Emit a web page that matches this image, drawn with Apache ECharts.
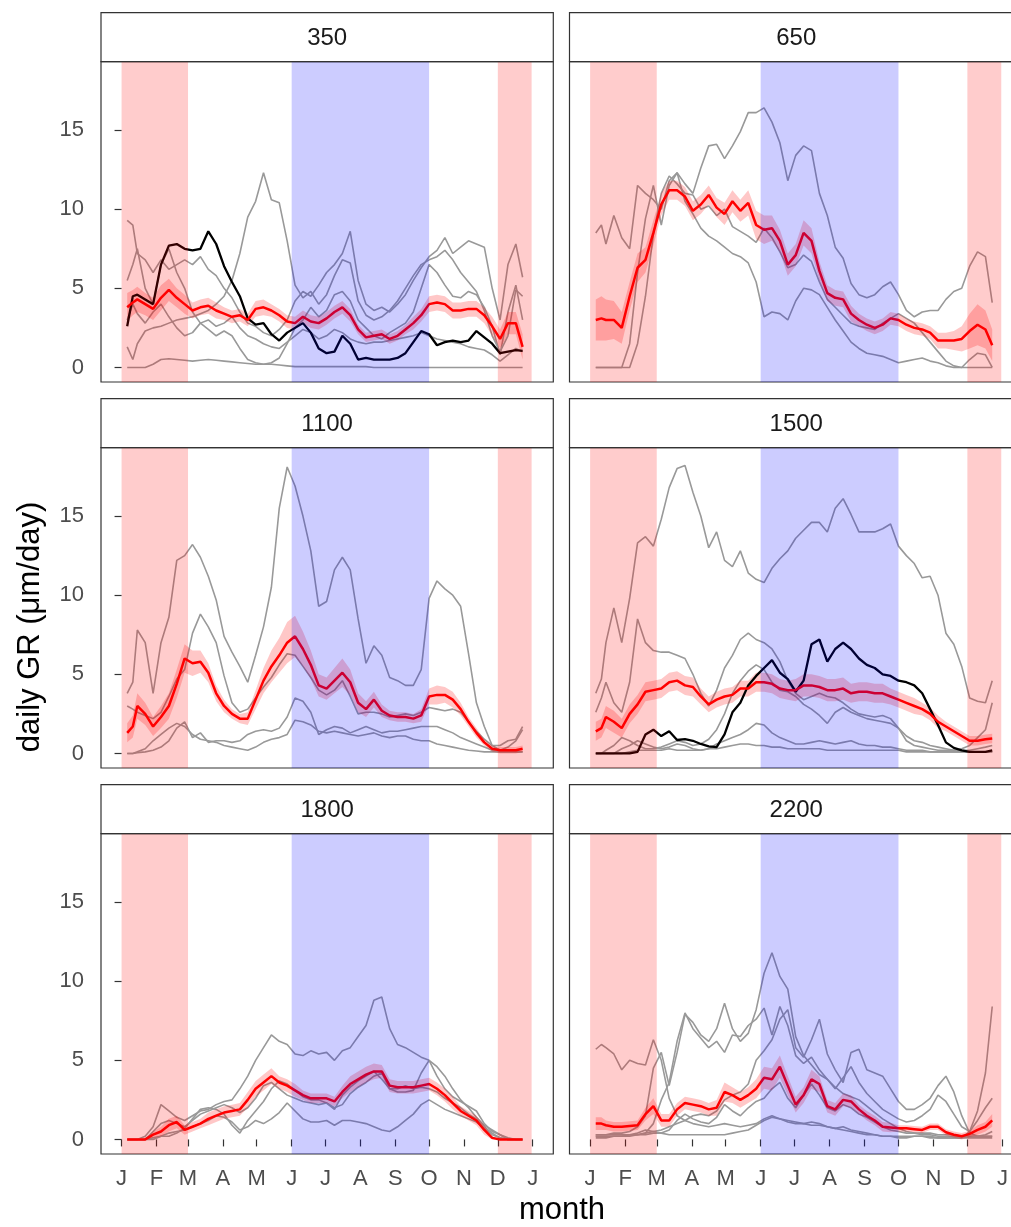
<!DOCTYPE html>
<html>
<head>
<meta charset="utf-8">
<title>daily GR by elevation</title>
<script src="https://cdn.jsdelivr.net/npm/echarts@6/dist/echarts.min.js"></script>
<style>
  html, body { margin: 0; padding: 0; background: #fff; }
  #main { width: 1011px; height: 1227px; }
</style>
</head>
<body>
<div id="main"></div>
<script>
// day of year for every sample
const days = [
  5, 10, 14, 21, 28, 35, 42, 49, 56, 63, 70, 77, 84,
  91, 98, 105, 112, 119, 126, 133, 140, 147, 154, 161, 168, 175,
  182, 189, 196, 203, 210, 217, 224, 231, 238, 245, 252, 259, 266,
  273, 280, 287, 294, 301, 308, 315, 322, 329, 336, 343, 350, 356
];
const monthDays = [0, 31, 59, 90, 120, 151, 181, 212, 243, 273, 304, 334, 365];
const monthLabels = ['J', 'F', 'M', 'A', 'M', 'J', 'J', 'A', 'S', 'O', 'N', 'D', 'J'];
const yTicks = [0, 5, 10, 15];
const winterSpans = [[0, 59], [334, 364]];
const summerSpans = [[151, 273]];

// ---- 350 ----
const mean350 = [
  3.8, 4.1, 4.3, 4.0, 3.7, 4.4, 4.9, 4.4, 4.0, 3.6, 3.8, 3.9, 3.6,
  3.4, 3.2, 3.3, 3.0, 3.7, 3.8, 3.6, 3.3, 2.9, 2.8, 3.2, 2.9, 2.8,
  3.1, 3.5, 3.8, 3.3, 2.4, 1.9, 2.0, 2.1, 1.8, 2.0, 2.4, 2.8, 3.3,
  4.0, 4.1, 4.0, 3.6, 3.6, 3.7, 3.7, 3.3, 2.6, 1.8, 2.8, 2.8, 1.3
];
const se350 = [
  0.9, 0.8, 0.8, 0.7, 0.7, 0.8, 0.7, 0.6, 0.6, 0.5, 0.5, 0.5, 0.5,
  0.4, 0.4, 0.4, 0.4, 0.5, 0.5, 0.4, 0.4, 0.4, 0.4, 0.4, 0.4, 0.4,
  0.4, 0.4, 0.4, 0.4, 0.3, 0.3, 0.3, 0.3, 0.3, 0.3, 0.3, 0.4, 0.4,
  0.5, 0.5, 0.5, 0.5, 0.5, 0.5, 0.5, 0.5, 0.6, 0.6, 0.7, 0.7, 0.8
];
const black350 = [
  2.6, 4.5, 4.6, 4.3, 4.0, 6.5, 7.7, 7.8, 7.5, 7.4, 7.5, 8.6, 7.8,
  6.4, 5.4, 4.5, 3.1, 2.7, 2.8, 2.1, 1.7, 2.2, 2.5, 2.8, 2.2, 1.2,
  0.9, 1.0, 2.0, 1.5, 0.5, 0.6, 0.5, 0.5, 0.5, 0.6, 0.9, 1.6, 2.3,
  2.1, 1.4, 1.6, 1.7, 1.6, 1.7, 2.3, 1.9, 1.5, 0.9, 1.0, 1.1, 1.05
];
const grey350 = [
  [9.3, 9.0, 7.2, 6.8, 6.0, 6.8, 6.2, 6.5, 6.8, 6.5, 7.0, 6.2, 5.8,
   5.0, 4.4, 3.5, 2.8, 2.6, 2.2, 2.0, 2.4, 3.0, 4.2, 4.8, 4.5, 5.2,
   6.0, 6.5, 7.2, 8.6, 5.5, 4.0, 3.6, 3.8, 3.5, 4.0, 4.6, 5.5, 6.3,
   7.0, 7.4, 8.2, 7.2, 7.6, 8.0, 7.8, 7.6, 5.0, 3.0, 6.5, 7.8, 5.7],
  [1.3, 0.5, 1.5, 2.3, 2.5, 2.6, 2.8, 3.0, 3.1, 3.2, 3.4, 3.6, 4.0,
   4.5, 5.5, 7.2, 9.5, 10.5, 12.3, 10.6, 10.4, 8.0, 5.2, 4.4, 4.8, 4.0,
   4.6, 5.8, 6.8, 6.6, 4.2, 3.3, 3.0, 3.2, 3.6, 4.2, 5.0, 5.8, 6.5,
   6.8, 7.0, 7.4, 6.8, 6.0, 5.4, 4.8, 3.6, 2.0, 1.0, 2.0, 4.9, 4.5],
  [5.5, 6.5, 7.5, 5.0, 4.0, 6.5, 7.5, 6.0, 5.0, 3.5, 2.8, 2.4, 2.0,
   2.3, 2.0, 1.2, 0.5, 0.3, 0.2, 0.3, 0.6, 1.5, 2.5, 3.0, 3.8, 3.2,
   3.6, 4.6, 4.8, 4.2, 3.0, 2.5, 2.0, 1.8, 2.2, 2.5, 2.8, 3.5, 5.0,
   6.5, 6.0, 5.2, 4.5, 4.4, 4.8, 4.6, 3.8, 2.6, 0.8, 3.5, 5.2, 3.0],
  [3.0, 4.0, 3.4, 2.8, 3.5, 4.0, 3.2, 2.5, 2.0, 2.2, 2.8, 3.0, 2.6,
   2.8, 3.2, 2.5, 2.0, 1.8, 1.5, 1.3, 1.2, 1.6, 2.0, 2.4, 2.2, 1.8,
   2.0, 2.4, 2.2, 1.8, 1.6, 1.5, 1.6, 1.6, 1.7, 1.8, 1.9, 2.0, 2.2,
   2.0, 1.8, 1.7, 1.6, 1.5, 1.3, 1.2, 1.1, 0.8, 0.4, 0.8, 1.2, 1.0],
  [0, 0, 0, 0, 0.2, 0.5, 0.55, 0.5, 0.45, 0.4, 0.45, 0.5, 0.45,
   0.4, 0.35, 0.3, 0.25, 0.2, 0.2, 0.2, 0.15, 0.1, 0.05, 0.05, 0.05, 0.05,
   0.05, 0.05, 0.05, 0.05, 0.05, 0.05, 0, 0, 0, 0, 0, 0, 0,
   0, 0, 0, 0, 0, 0, 0, 0, 0, 0, 0, 0, 0]
];

// ---- 650 ----
const mean650 = [
  3.0, 3.1, 3.0, 3.0, 2.5, 4.5, 6.3, 6.8, 8.5, 10.3, 11.2, 11.2, 10.8,
  9.9, 10.3, 10.9, 10.1, 9.7, 10.5, 9.9, 10.4, 9.0, 8.7, 8.8, 8.0, 6.5,
  7.1, 8.5, 8.0, 6.1, 4.7, 4.4, 4.3, 3.4, 3.0, 2.7, 2.5, 2.7, 3.1,
  3.0, 2.7, 2.5, 2.4, 2.2, 1.7, 1.7, 1.7, 1.8, 2.3, 2.7, 2.4, 1.4
];
const se650 = [
  1.3, 1.4, 1.3, 1.2, 1.0, 0.9, 0.9, 0.8, 0.8, 0.7, 0.6, 0.6, 0.6,
  0.6, 0.6, 0.6, 0.6, 0.7, 0.7, 0.7, 0.8, 0.9, 0.9, 0.8, 0.7, 0.7,
  0.7, 0.8, 0.8, 0.6, 0.5, 0.5, 0.5, 0.5, 0.4, 0.4, 0.4, 0.4, 0.4,
  0.4, 0.4, 0.4, 0.4, 0.4, 0.5, 0.5, 0.6, 0.8, 1.1, 1.3, 1.2, 1.0
];
const grey650 = [
  [8.5, 9.0, 7.8, 9.6, 8.2, 7.5, 11.5, 11.0, 10.6, 10.0, 11.8, 12.3, 11.6,
   11.0, 12.6, 14.0, 14.1, 13.2, 14.0, 14.9, 16.1, 16.1, 16.4, 15.5, 14.2, 11.8,
   13.4, 14.0, 13.7, 11.0, 9.6, 7.6, 6.9, 5.3, 4.6, 4.4, 4.6, 5.1, 5.4,
   4.6, 3.6, 3.2, 3.5, 3.6, 3.6, 4.3, 4.8, 5.0, 6.4, 7.3, 7.0, 4.1],
  [0, 0, 0, 0, 0, 1.5, 6.0, 9.4, 11.5, 9.0, 11.5, 12.3, 10.5,
   9.7, 8.8, 8.3, 8.0, 7.6, 7.2, 7.0, 6.6, 5.4, 3.2, 3.5, 3.4, 3.0,
   4.2, 5.0, 4.9, 4.6, 3.8, 3.0, 2.3, 1.6, 1.2, 0.9, 0.8, 0.7, 0.5,
   0.3, 0.4, 0.5, 0.6, 0.4, 0.3, 0.1, 0, 0, 0, 0, 0, 0],
  [0, 0, 0, 0, 0, 0, 1.5, 4.5, 8.4, 11.0, 12.1, 11.6, 11.0,
   10.9, 10.0, 10.2, 9.6, 10.0, 8.9, 8.6, 8.3, 7.9, 8.8, 8.2, 7.3, 6.3,
   6.5, 7.1, 6.7, 5.4, 4.3, 3.8, 3.3, 2.8, 2.6, 2.5, 2.4, 2.8, 3.1,
   3.4, 3.1, 2.8, 2.2, 1.6, 1.0, 0.4, 0.1, 0, 0.5, 0.9, 0.8, 0]
];

// ---- 1100 ----
const mean1100 = [
  1.3, 1.7, 3.0, 2.5, 1.7, 2.3, 3.0, 4.4, 6.0, 5.7, 5.8, 5.1, 3.8,
  3.0, 2.5, 2.2, 2.2, 3.4, 4.6, 5.5, 6.2, 7.0, 7.4, 6.6, 5.6, 4.3,
  4.1, 4.6, 5.1, 4.5, 3.2, 2.8, 3.4, 2.7, 2.4, 2.3, 2.3, 2.2, 2.4,
  3.6, 3.7, 3.7, 3.4, 2.8, 2.0, 1.3, 0.7, 0.3, 0.2, 0.2, 0.2, 0.3
];
const se1100 = [
  0.6, 0.7, 0.8, 0.7, 0.6, 0.7, 0.8, 0.9, 0.9, 0.8, 0.7, 0.6, 0.5,
  0.4, 0.3, 0.3, 0.4, 0.6, 0.8, 1.0, 1.1, 1.3, 1.3, 1.1, 0.9, 0.7,
  0.7, 0.8, 0.9, 0.8, 0.6, 0.5, 0.5, 0.4, 0.3, 0.3, 0.3, 0.3, 0.4,
  0.5, 0.6, 0.5, 0.5, 0.4, 0.3, 0.3, 0.2, 0.2, 0.2, 0.2, 0.2, 0.2
];
const grey1100 = [
  [3.8, 4.5, 7.8, 7.0, 3.8, 7.0, 8.6, 12.2, 12.5, 13.2, 12.4, 11.2, 9.7,
   7.4, 6.4, 5.5, 4.5, 6.2, 8.0, 10.5, 15.5, 18.1, 16.9, 15.0, 12.8, 9.3,
   9.6, 11.6, 12.4, 11.6, 8.5, 5.7, 6.8, 6.2, 4.8, 4.6, 4.3, 4.3, 5.3,
   9.8, 10.9, 10.4, 10.0, 9.3, 6.3, 3.2, 1.7, 0.5, 0.2, 0.4, 0.8, 1.5],
  [3.0, 2.8, 2.6, 2.4, 2.2, 2.6, 3.6, 4.7, 5.3, 7.6, 8.8, 8.0, 7.0,
   4.9, 3.2, 2.6, 2.8, 3.5, 4.2, 4.8, 5.6, 6.3, 6.2, 5.5, 4.8, 4.0,
   3.7, 4.0, 4.6, 3.6, 2.5, 2.6, 2.6, 2.5, 2.3, 2.4, 2.5, 2.4, 2.6,
   2.9, 2.8, 2.7, 2.8, 2.6, 2.0, 1.4, 0.9, 0.5, 0.5, 0.8, 0.9, 1.7],
  [0, 0, 0.05, 0.1, 0.2, 0.4, 0.8, 1.6, 2.0, 1.0, 1.3, 0.7, 0.8,
   0.8, 0.7, 0.8, 1.2, 1.4, 1.5, 1.4, 1.6, 2.3, 3.5, 3.3, 2.6, 1.2,
   1.5, 1.7, 1.6, 1.3, 1.5, 1.7, 1.5, 1.3, 1.4, 1.4, 1.5, 1.6, 1.7,
   1.7, 1.7, 1.5, 1.3, 1.0, 0.8, 0.6, 0.4, 0.2, 0.1, 0.1, 0.1, 0.1],
  [0, 0, 0.1, 0.3, 0.8, 1.2, 1.6, 1.9, 1.7, 1.2, 0.9, 0.8, 0.7,
   0.5, 0.4, 0.3, 0.2, 0.4, 0.7, 0.9, 1.0, 1.2, 2.1, 2.0, 1.8, 1.4,
   1.3, 1.4, 1.3, 1.2, 1.1, 1.2, 1.3, 1.1, 1.0, 1.1, 1.1, 0.9, 0.8,
   0.8, 0.6, 0.5, 0.4, 0.3, 0.2, 0.15, 0.1, 0.1, 0.1, 0.1, 0.1, 0.1]
];

// ---- 1500 ----
const mean1500 = [
  1.4, 1.6, 2.3, 2.0, 1.6, 2.5, 3.1, 3.9, 4.0, 4.1, 4.5, 4.6, 4.3,
  4.2, 3.6, 3.1, 3.4, 3.6, 3.7, 4.1, 4.1, 4.5, 4.5, 4.4, 4.1, 4.0,
  4.0, 4.3, 4.3, 4.2, 4.0, 4.0, 4.1, 3.8, 3.9, 3.9, 3.8, 3.8, 3.6,
  3.4, 3.2, 3.0, 2.8, 2.5, 2.0, 1.7, 1.4, 1.1, 0.8, 0.8, 0.9, 0.95
];
const se1500 = [
  0.6, 0.6, 0.7, 0.7, 0.6, 0.6, 0.6, 0.6, 0.6, 0.6, 0.6, 0.6, 0.6,
  0.6, 0.5, 0.5, 0.5, 0.5, 0.5, 0.5, 0.5, 0.6, 0.6, 0.6, 0.6, 0.6,
  0.7, 0.7, 0.7, 0.7, 0.7, 0.7, 0.7, 0.6, 0.6, 0.6, 0.6, 0.6, 0.5,
  0.5, 0.5, 0.5, 0.4, 0.4, 0.4, 0.3, 0.3, 0.3, 0.3, 0.3, 0.3, 0.3
];
const black1500 = [
  0, 0, 0, 0, 0, 0, 0.1, 1.2, 1.5, 1.1, 1.4, 0.85, 0.9,
  0.8, 0.6, 0.45, 0.4, 1.2, 2.6, 3.2, 4.3, 4.9, 5.4, 5.9, 5.1, 4.7,
  3.9, 4.6, 6.9, 7.2, 5.8, 6.6, 7.0, 6.6, 6.0, 5.6, 5.4, 5.0, 4.9,
  4.6, 4.5, 4.3, 3.8, 2.8, 1.8, 0.7, 0.35, 0.2, 0.1, 0.1, 0.1, 0.2
];
const grey1500 = [
  [3.8, 4.7, 7.0, 9.2, 7.0, 9.8, 13.3, 13.7, 13.1, 14.8, 16.8, 18.0, 18.2,
   16.5, 15.0, 13.0, 14.0, 12.2, 11.8, 12.8, 11.4, 11.0, 10.8, 11.7, 12.3, 12.8,
   13.6, 14.1, 14.6, 14.6, 14.0, 15.5, 16.1, 15.1, 14.0, 14.0, 14.0, 14.2, 14.5,
   13.1, 12.5, 12.0, 11.1, 11.2, 10.0, 7.6, 6.9, 5.5, 3.5, 3.3, 3.2, 4.6],
  [2.6, 3.5, 4.5, 3.2, 2.6, 4.5, 8.5, 7.0, 6.5, 6.4, 6.4, 6.2, 6.0,
   5.0, 3.8, 3.0, 4.0, 5.4, 6.2, 7.2, 7.6, 7.2, 7.0, 6.6, 5.8, 4.6,
   3.8, 3.4, 3.6, 3.8, 3.6, 3.5, 3.2, 2.8, 2.5, 2.4, 2.3, 2.4, 2.2,
   1.6, 0.8, 0.5, 0.4, 0.3, 0.2, 0.2, 0.2, 0.3, 0.5, 1.0, 1.5, 3.2],
  [0, 0, 0, 0, 0.3, 0.5, 0.8, 0.6, 0.4, 0.3, 0.4, 0.6, 0.5,
   0.3, 0.2, 0.3, 0.6, 0.8, 1.0, 1.2, 1.5, 1.9, 1.8, 1.3, 1.0, 0.8,
   0.6, 0.6, 0.7, 0.8, 0.7, 0.6, 0.7, 0.8, 0.6, 0.5, 0.5, 0.4, 0.4,
   0.3, 0.2, 0.2, 0.2, 0.1, 0.1, 0.1, 0.1, 0.1, 0.1, 0.1, 0.1, 0.1],
  [0, 0, 0.2, 0.5, 1.0, 0.8, 0.5, 0.3, 0.3, 0.4, 0.6, 0.8, 0.7,
   0.5, 0.6, 0.9, 1.5, 2.5, 3.8, 4.6, 5.2, 5.6, 5.3, 4.5, 4.0, 3.9,
   3.6, 3.1, 2.8, 2.4, 1.9, 2.6, 2.9, 2.6, 2.4, 2.2, 2.1, 2.0, 1.9,
   1.6, 1.1, 0.8, 0.7, 0.5, 0.4, 0.3, 0.2, 0.2, 0.2, 0.3, 0.4, 0.5],
  [0, 0, 0, 0, 0, 0.1, 0.2, 0.2, 0.2, 0.2, 0.3, 0.2, 0.2,
   0.2, 0.2, 0.3, 0.3, 0.4, 0.5, 0.6, 0.6, 0.5, 0.5, 0.4, 0.4, 0.3,
   0.3, 0.3, 0.3, 0.3, 0.2, 0.2, 0.2, 0.2, 0.2, 0.2, 0.2, 0.2, 0.2,
   0.2, 0.1, 0.1, 0.1, 0.1, 0.1, 0.1, 0.1, 0.1, 0.1, 0.1, 0.1, 0.1]
];

// ---- 1800 ----
const mean1800 = [
  0, 0, 0, 0, 0.3, 0.5, 0.9, 1.1, 0.6, 0.8, 1.0, 1.3, 1.5,
  1.7, 1.8, 1.9, 2.5, 3.2, 3.6, 4.0, 3.6, 3.4, 3.1, 2.8, 2.6, 2.6,
  2.6, 2.4, 3.0, 3.5, 3.8, 4.1, 4.3, 4.3, 3.4, 3.3, 3.3, 3.3, 3.4,
  3.5, 3.2, 2.8, 2.3, 1.8, 1.5, 1.2, 0.6, 0.1, 0, 0, 0, 0
];
const se1800 = [
  0, 0, 0, 0, 0.2, 0.3, 0.4, 0.4, 0.3, 0.3, 0.3, 0.4, 0.4,
  0.4, 0.4, 0.4, 0.5, 0.5, 0.5, 0.5, 0.4, 0.4, 0.4, 0.3, 0.3, 0.3,
  0.3, 0.3, 0.4, 0.5, 0.5, 0.5, 0.5, 0.4, 0.4, 0.4, 0.4, 0.4, 0.4,
  0.4, 0.4, 0.4, 0.4, 0.3, 0.3, 0.3, 0.3, 0.1, 0, 0, 0, 0
];
const grey1800 = [
  [0, 0, 0, 0.2, 0.8, 2.2, 1.8, 1.4, 1.2, 1.5, 1.8, 1.9, 2.2,
   2.4, 2.5, 3.2, 4.0, 5.0, 5.8, 6.6, 6.2, 6.0, 5.4, 5.3, 5.6, 5.4,
   5.5, 5.0, 5.6, 5.8, 6.5, 7.2, 8.8, 9.0, 7.0, 6.0, 5.8, 5.5, 5.2,
   5.0, 4.6, 4.0, 3.2, 2.5, 2.0, 1.4, 0.9, 0.6, 0.3, 0, 0, 0],
  [0, 0, 0, 0, 0, 0.2, 0.4, 0.5, 0.6, 0.8, 1.0, 1.2, 1.5,
   1.4, 1.1, 0.6, 0.8, 1.2, 1.0, 1.3, 1.7, 2.3, 1.8, 1.3, 1.1, 1.1,
   1.2, 0.9, 1.2, 1.2, 1.1, 1.0, 0.8, 0.6, 0.5, 0.8, 1.2, 1.6, 2.2,
   2.5, 2.2, 1.9, 1.7, 1.5, 1.3, 1.1, 0.7, 0.3, 0.1, 0, 0, 0],
  [0, 0, 0, 0, 0.1, 0.2, 0.2, 0.4, 0.7, 1.3, 1.9, 2.0, 1.9,
   1.6, 0.9, 0.4, 1.2, 1.8, 2.4, 3.2, 3.7, 3.5, 3.1, 2.7, 2.5, 2.5,
   2.3, 1.9, 2.8, 3.3, 3.7, 4.0, 4.3, 3.8, 3.2, 3.0, 3.0, 3.1, 4.2,
   5.0, 4.0, 3.2, 2.7, 2.4, 2.1, 1.8, 1.0, 0.5, 0.3, 0.1, 0, 0],
  [0, 0, 0, 0, 0.5, 1.0, 1.2, 1.0, 0.8, 1.2, 1.6, 1.8, 2.0,
   2.2, 2.0, 1.7, 2.0, 2.6, 3.4, 3.6, 3.2, 2.8, 2.6, 2.4, 2.3, 2.2,
   2.3, 2.0, 2.2, 2.9, 3.3, 3.6, 4.0, 4.2, 3.2, 3.2, 3.4, 3.2, 3.3,
   3.2, 3.0, 2.6, 2.3, 2.0, 1.6, 1.3, 0.8, 0.4, 0.1, 0, 0, 0]
];

// ---- 2200 ----
const mean2200 = [
  1.0, 1.0, 0.9, 0.8, 0.8, 0.85, 0.9, 1.6, 2.1, 1.2, 1.2, 1.9, 2.3,
  2.2, 2.1, 1.9, 2.0, 3.0, 2.8, 2.5, 2.8, 3.2, 3.9, 3.8, 4.6, 3.4,
  2.2, 2.8, 3.8, 3.5, 2.1, 1.9, 2.5, 2.4, 1.9, 1.5, 1.2, 0.8, 0.75,
  0.7, 0.7, 0.65, 0.6, 0.8, 0.8, 0.45, 0.3, 0.2, 0.35, 0.6, 0.8, 1.2
];
const se2200 = [
  0.4, 0.4, 0.3, 0.3, 0.3, 0.3, 0.3, 0.4, 0.5, 0.4, 0.4, 0.4, 0.4,
  0.4, 0.4, 0.4, 0.5, 0.6, 0.5, 0.5, 0.5, 0.6, 0.7, 0.7, 0.7, 0.6,
  0.5, 0.5, 0.6, 0.5, 0.4, 0.4, 0.4, 0.4, 0.3, 0.3, 0.3, 0.3, 0.3,
  0.2, 0.2, 0.2, 0.2, 0.2, 0.2, 0.2, 0.2, 0.2, 0.2, 0.3, 0.3, 0.4
];
const grey2200 = [
  [5.7, 6.0, 5.8, 5.4, 4.4, 5.0, 4.8, 4.7, 6.3, 5.0, 2.6, 1.5, 1.2,
   1.0, 0.9, 0.8, 0.9, 1.0, 0.9, 0.8, 0.9, 1.0, 1.3, 1.5, 1.3, 1.2,
   1.1, 1.0, 1.1, 1.0, 0.8, 0.7, 0.8, 0.6, 0.5, 0.4, 0.3, 0.2, 0.2,
   0.1, 0.1, 0.2, 0.2, 0.1, 0.1, 0.1, 0.1, 0.1, 0.5, 1.8, 4.2, 8.4],
  [0.3, 0.3, 0.3, 0.4, 0.4, 0.5, 0.8, 1.5, 4.5, 5.5, 3.4, 5.5, 7.9,
   7.4, 6.6, 6.2, 7.0, 8.6, 7.0, 6.2, 6.7, 8.2, 10.5, 11.8, 10.3, 9.5,
   6.5, 5.3, 4.7, 4.1, 3.8, 3.3, 2.9, 2.7, 2.5, 2.1, 1.7, 1.3, 1.0,
   0.7, 0.5, 0.4, 0.3, 0.3, 0.2, 0.2, 0.2, 0.2, 0.2, 0.2, 0.2, 0.2],
  [0.2, 0.2, 0.2, 0.2, 0.2, 0.3, 0.3, 0.4, 0.5, 0.6, 0.8, 1.0, 1.2,
   1.5, 1.6, 1.5, 1.8, 2.5, 2.8, 3.0, 3.5, 5.0, 5.6, 6.3, 7.6, 8.2,
   5.8, 5.2, 6.3, 7.6, 5.4, 4.4, 3.6, 5.5, 5.7, 4.4, 4.2, 4.0, 3.2,
   2.4, 1.9, 1.9, 2.2, 2.6, 3.4, 4.0, 3.0, 1.5, 0.4, 0.2, 0.2, 0.2],
  [0.1, 0.1, 0.1, 0.2, 0.2, 0.3, 0.4, 0.6, 0.5, 0.4, 0.6, 1.2, 1.6,
   1.3, 1.1, 1.0, 1.4, 2.2, 1.8, 1.5, 2.0, 2.4, 2.6, 3.2, 3.6, 2.6,
   2.0, 2.8, 3.5, 2.8, 2.0, 1.8, 2.2, 2.0, 1.6, 1.4, 1.1, 0.8, 0.6,
   0.5, 0.4, 0.4, 0.4, 0.4, 0.3, 0.3, 0.3, 0.2, 0.2, 0.2, 0.3, 0.5],
  [0.2, 0.2, 0.2, 0.2, 0.2, 0.2, 0.3, 0.4, 1.0, 2.5, 3.6, 6.2, 8.0,
   7.0, 6.4, 5.8, 6.2, 5.5, 6.6, 6.5, 7.2, 7.6, 8.3, 6.6, 8.4, 7.2,
   5.3, 4.8, 5.2, 4.4, 3.8, 3.2, 3.9, 4.6, 3.6, 2.9, 2.4, 1.9, 1.6,
   1.3, 1.1, 1.2, 1.5, 1.9, 2.8, 2.4, 1.6, 0.8, 0.5, 1.2, 2.0, 2.6],
  [0.3, 0.3, 0.3, 0.3, 0.3, 0.3, 0.3, 0.3, 0.4, 0.4, 0.3, 0.3, 0.3,
   0.3, 0.3, 0.3, 0.3, 0.3, 0.4, 0.5, 0.6, 0.9, 1.2, 1.4, 1.3, 1.1,
   1.0, 1.0, 0.9, 0.9, 0.8, 0.7, 0.6, 0.5, 0.4, 0.3, 0.3, 0.2, 0.2,
   0.2, 0.2, 0.2, 0.2, 0.2, 0.1, 0.1, 0.1, 0.1, 0.1, 0.1, 0.1, 0.1]
];

const panels = [
  { name: '350', mean: mean350, se: se350, grey: grey350, black: black350 },
  { name: '650', mean: mean650, se: se650, grey: grey650 },
  { name: '1100', mean: mean1100, se: se1100, grey: grey1100 },
  { name: '1500', mean: mean1500, se: se1500, grey: grey1500, black: black1500 },
  { name: '1800', mean: mean1800, se: se1800, grey: grey1800 },
  { name: '2200', mean: mean2200, se: se2200, grey: grey2200 }
];

// layout (px)
const colLeft = [101, 569.5];
const colWidth = [452.3, 453.5];
const rowTop = [61.7, 447.7, 833.7];
const plotH = 320.3;
const stripH = 49;
const xMin = -18.25, xMax = 383.25;
const yMin = -0.92, yMax = 19.32;
const font = 'Liberation Sans, Arial, Helvetica, sans-serif';

const chart = echarts.init(document.getElementById('main'));

const grids = [], xAxes = [], yAxes = [], series = [], graphics = [];

const toPairs = (vals) => days.map((d, k) => [d, vals[k]]);

panels.forEach((p, i) => {
  const r = Math.floor(i / 2), c = i % 2;
  const left = colLeft[c], top = rowTop[r], width = colWidth[c];

  grids.push({
    left: left, top: top, width: width, height: plotH,
    show: true, borderColor: '#333', borderWidth: 1.2,
    backgroundColor: 'transparent', containLabel: false, outerBoundsMode: 'none'
  });

  xAxes.push({
    gridIndex: i, type: 'value', min: xMin, max: xMax,
    splitLine: { show: false }, axisLine: { show: false },
    axisTick: { show: r === 2, customValues: monthDays, length: 7, lineStyle: { color: '#333', width: 1.2 } },
    axisLabel: {
      show: r === 2, customValues: monthDays, margin: 14,
      color: '#4d4d4d', fontSize: 22, fontFamily: font,
      formatter: (v) => monthLabels[monthDays.indexOf(v)]
    }
  });

  yAxes.push({
    gridIndex: i, type: 'value', min: yMin, max: yMax,
    splitLine: { show: false }, axisLine: { show: false },
    axisTick: { show: c === 0, customValues: yTicks, length: 7, lineStyle: { color: '#333', width: 1.2 } },
    axisLabel: { show: c === 0, customValues: yTicks, margin: 17, color: '#4d4d4d', fontSize: 22, fontFamily: font }
  });

  // individual trees
  p.grey.forEach((g) => {
    series.push({
      type: 'line', xAxisIndex: i, yAxisIndex: i, data: toPairs(g),
      symbol: 'none', silent: true, z: 2,
      lineStyle: { color: '#999', width: 1.6 }
    });
  });

  if (p.black) {
    series.push({
      type: 'line', xAxisIndex: i, yAxisIndex: i, data: toPairs(p.black),
      symbol: 'none', silent: true, z: 3,
      lineStyle: { color: '#000', width: 2.3 }
    });
  }

  // ribbon mean +- se
  series.push({
    type: 'custom', xAxisIndex: i, yAxisIndex: i, silent: true, z: 3,
    data: days.map((d, k) => [d, p.mean[k] - p.se[k], p.mean[k] + p.se[k]]),
    renderItem: (params, api) => {
      if (params.dataIndex !== 0) return null;
      const upper = days.map((d, k) => api.coord([d, p.mean[k] + p.se[k]]));
      const lower = days.map((d, k) => api.coord([d, p.mean[k] - p.se[k]])).reverse();
      return {
        type: 'polygon',
        shape: { points: upper.concat(lower) },
        style: { fill: 'rgba(255,0,0,0.22)' }
      };
    }
  });

  // mean
  series.push({
    type: 'line', xAxisIndex: i, yAxisIndex: i, data: toPairs(p.mean),
    symbol: 'none', silent: true, z: 4,
    lineStyle: { color: '#ff0000', width: 2.5 }
  });

  // season bands drawn on top, semi transparent
  const areas = [];
  winterSpans.forEach((s) => areas.push([
    { xAxis: s[0], yAxis: yMin, itemStyle: { color: 'rgba(255,0,0,0.2)' } },
    { xAxis: s[1], yAxis: yMax }
  ]));
  summerSpans.forEach((s) => areas.push([
    { xAxis: s[0], yAxis: yMin, itemStyle: { color: 'rgba(0,0,255,0.2)' } },
    { xAxis: s[1], yAxis: yMax }
  ]));
  series.push({
    type: 'line', xAxisIndex: i, yAxisIndex: i, data: [], silent: true, z: 10,
    markArea: { silent: true, z: 10, data: areas }
  });

  // facet strip
  graphics.push({
    type: 'rect', z: 20,
    shape: { x: left, y: top - stripH, width: width, height: stripH },
    style: { fill: '#fff', stroke: '#333', lineWidth: 1.2 }
  });
  graphics.push({
    type: 'text', z: 21,
    x: left + width / 2, y: top - stripH / 2 + 1,
    style: { text: p.name, fill: '#1a1a1a', fontSize: 24, fontFamily: font, align: 'center', verticalAlign: 'middle' }
  });
});

// axis titles
graphics.push({
  type: 'text', z: 21, x: 562, y: 1210,
  style: { text: 'month', fill: '#000', fontSize: 31, fontFamily: font, align: 'center', verticalAlign: 'middle' }
});
graphics.push({
  type: 'text', z: 21, x: 30, y: 627, rotation: Math.PI / 2,
  style: { text: 'daily GR (μm/day)', fill: '#000', fontSize: 31, fontFamily: font, align: 'center', verticalAlign: 'middle' }
});

const option = {
  animation: false,
  backgroundColor: '#fff',
  grid: grids,
  xAxis: xAxes,
  yAxis: yAxes,
  series: series,
  graphic: graphics
};

option && chart.setOption(option);
</script>
</body>
</html>
